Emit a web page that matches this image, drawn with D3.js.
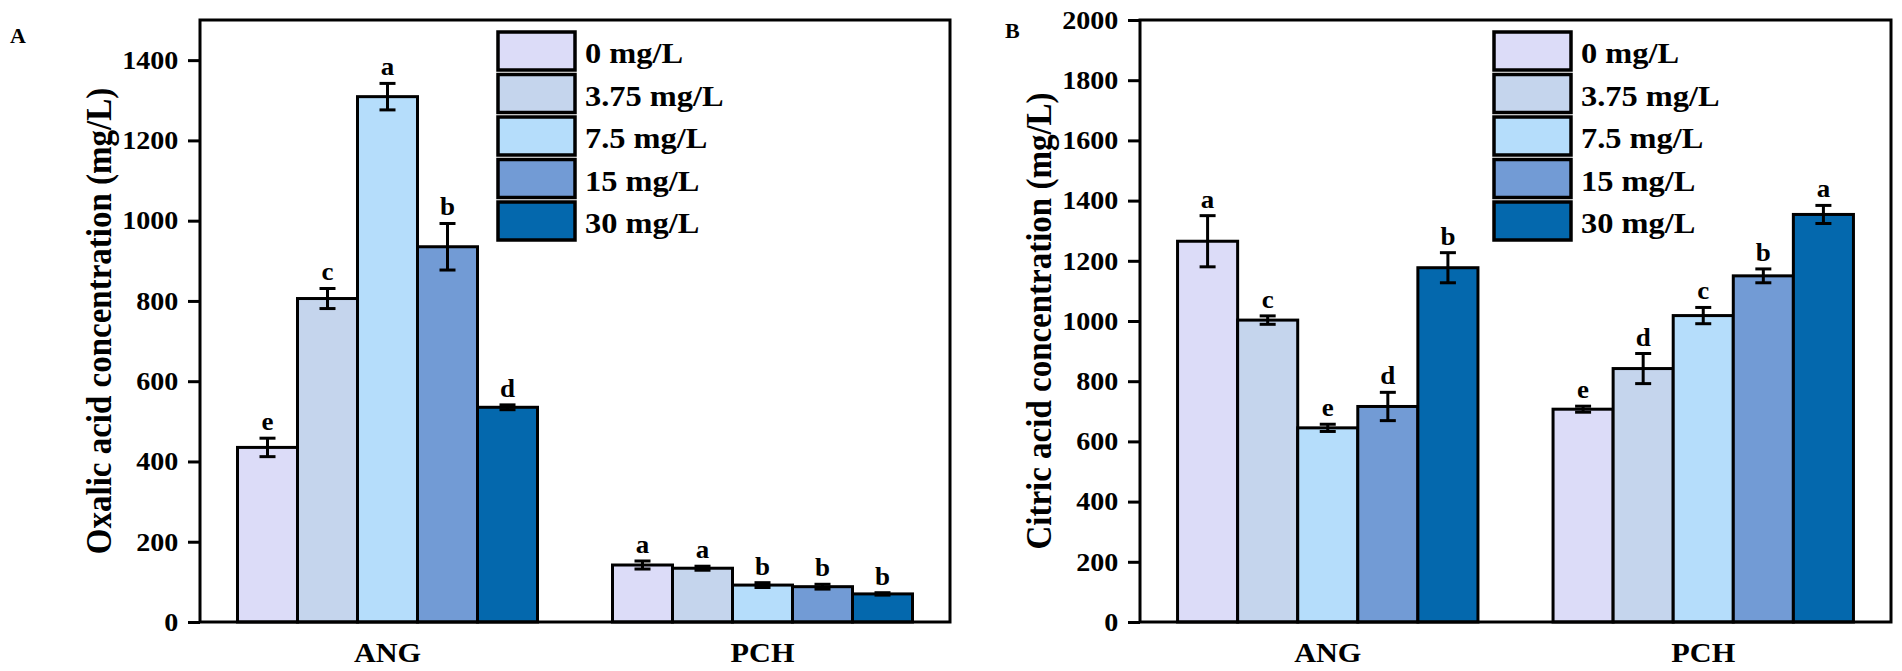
<!DOCTYPE html>
<html>
<head>
<meta charset="utf-8">
<script src="https://cdn.jsdelivr.net/npm/d3@7"></script>
<style>
  body { margin: 0; background: #fff; }
  svg { display: block; font-family: "Times New Roman", "Liberation Serif", serif; font-weight: bold; }
</style>
</head>
<body>
<svg id="chart" width="1902" height="671"></svg>
<script>
// groups and doses
const groups = ["ANG", "PCH"];
const doses = ["0 mg/L", "3.75 mg/L", "7.5 mg/L", "15 mg/L", "30 mg/L"];
const doseColors = ["#dcdcf8", "#c5d5ed", "#b5ddfb", "#729bd5", "#0468ad"];

// panel A: oxalic acid
const oxalicMean = [[435, 806, 1309, 935, 535], [142, 134, 92, 88, 70]];
const oxalicErr = [[23, 25, 33, 58, 6], [10, 5, 6, 6, 3]];
const oxalicLetters = [["e", "c", "a", "b", "d"], ["a", "a", "b", "b", "b"]];
const oxalicTicks = [0, 200, 400, 600, 800, 1000, 1200, 1400];

// panel B: citric acid
const citricMean = [[1265, 1003, 645, 716, 1177], [707, 842, 1018, 1150, 1354]];
const citricErr = [[85, 14, 12, 47, 50], [10, 50, 27, 23, 30]];
const citricLetters = [["a", "c", "e", "d", "b"], ["e", "d", "c", "b", "a"]];
const citricTicks = [0, 200, 400, 600, 800, 1000, 1200, 1400, 1600, 1800, 2000];

const svg = d3.select("#chart");
const stretch = 1.08; // glyphs in the figure are slightly wide

function drawPanel(cfg) {
  const top = 20, bottom = 622;
  const x = d3.scaleBand().domain(groups).range([cfg.left, cfg.right])
    .paddingInner(0.2).paddingOuter(0.1);
  const xs = d3.scaleBand().domain(doses).range([0, x.bandwidth()]);
  const y = d3.scaleLinear().domain([0, cfg.max]).range([bottom, top]);
  const color = d3.scaleOrdinal(doses, doseColors);

  const g = svg.append("g");

  const rows = [];
  groups.forEach((grp, i) => doses.forEach((d, j) => rows.push({
    grp, dose: d, v: cfg.mean[i][j], e: cfg.err[i][j], letter: cfg.letters[i][j]
  })));

  // bars
  g.selectAll("rect.bar").data(rows).join("rect")
    .attr("class", "bar")
    .attr("x", d => x(d.grp) + xs(d.dose))
    .attr("width", xs.bandwidth())
    .attr("y", d => y(d.v))
    .attr("height", d => y(0) - y(d.v))
    .attr("fill", d => color(d.dose))
    .attr("stroke", "#000")
    .attr("stroke-width", 3);

  // error bars
  const eb = g.selectAll("g.err").data(rows).join("g")
    .attr("class", "err")
    .attr("transform", d => `translate(${x(d.grp) + xs(d.dose) + xs.bandwidth() / 2},0)`)
    .attr("stroke", "#000").attr("stroke-width", 3);
  eb.append("line").attr("y1", d => y(d.v + d.e)).attr("y2", d => y(d.v - d.e));
  eb.append("line").attr("x1", -8).attr("x2", 8).attr("y1", d => y(d.v + d.e)).attr("y2", d => y(d.v + d.e));
  eb.append("line").attr("x1", -8).attr("x2", 8).attr("y1", d => y(d.v - d.e)).attr("y2", d => y(d.v - d.e));

  // significance letters
  g.selectAll("text.sig").data(rows).join("text")
    .attr("class", "sig")
    .attr("text-anchor", "middle")
    .attr("font-size", 25)
    .attr("transform", d => `translate(${x(d.grp) + xs(d.dose) + xs.bandwidth() / 2},${y(d.v + d.e) - 8}) scale(${stretch},1)`)
    .text(d => d.letter);

  // axes
  const ya = g.append("g").attr("transform", `translate(${cfg.left},0)`)
    .call(d3.axisLeft(y).tickValues(cfg.ticks).tickFormat(d3.format("d"))
      .tickSize(12).tickSizeOuter(0).tickPadding(8));
  ya.attr("font-family", null).attr("font-size", null);
  ya.select(".domain").remove();
  ya.selectAll(".tick line").attr("stroke-width", 3);
  ya.selectAll(".tick text").attr("font-size", 26).attr("fill", "#000")
    .attr("transform", `scale(${stretch},1)`);

  const xa = g.append("g").attr("transform", `translate(0,${bottom})`)
    .call(d3.axisBottom(x).tickSize(0).tickPadding(20));
  xa.attr("font-family", null).attr("font-size", null);
  xa.select(".domain").remove();
  xa.selectAll(".tick text").attr("font-size", 28).attr("fill", "#000")
    .attr("transform", `scale(${stretch},1)`);

  // frame
  g.append("rect")
    .attr("x", cfg.left).attr("y", top)
    .attr("width", cfg.right - cfg.left).attr("height", bottom - top)
    .attr("fill", "none").attr("stroke", "#000").attr("stroke-width", 3);

  // y title
  g.append("text")
    .attr("text-anchor", "middle")
    .attr("font-size", 33)
    .attr("transform", `translate(${cfg.left - 89},${(top + bottom) / 2}) rotate(-90) scale(1,${stretch})`)
    .text(cfg.title);

  // panel letter
  g.append("text").attr("x", cfg.tagX).attr("y", cfg.tagY)
    .attr("font-size", 22).text(cfg.tag);

  // legend
  const lg = g.append("g").attr("transform", `translate(${cfg.legendX},32)`);
  const item = lg.selectAll("g").data(doses).join("g")
    .attr("transform", (d, i) => `translate(0,${i * 42.5})`);
  item.append("rect").attr("width", 77).attr("height", 38)
    .attr("fill", d => color(d)).attr("stroke", "#000").attr("stroke-width", 3.5);
  item.append("text").attr("font-size", 30)
    .attr("transform", `translate(87,31) scale(${stretch},1)`)
    .text(d => d);
}

drawPanel({
  left: 200, right: 950, max: 1500, ticks: oxalicTicks,
  mean: oxalicMean, err: oxalicErr, letters: oxalicLetters,
  title: "Oxalic acid concentration (mg/L)",
  tag: "A", tagX: 10, tagY: 43, legendX: 498
});

drawPanel({
  left: 1140, right: 1891, max: 2000, ticks: citricTicks,
  mean: citricMean, err: citricErr, letters: citricLetters,
  title: "Citric acid concentration (mg/L)",
  tag: "B", tagX: 1005, tagY: 38, legendX: 1494
});
</script>
</body>
</html>
